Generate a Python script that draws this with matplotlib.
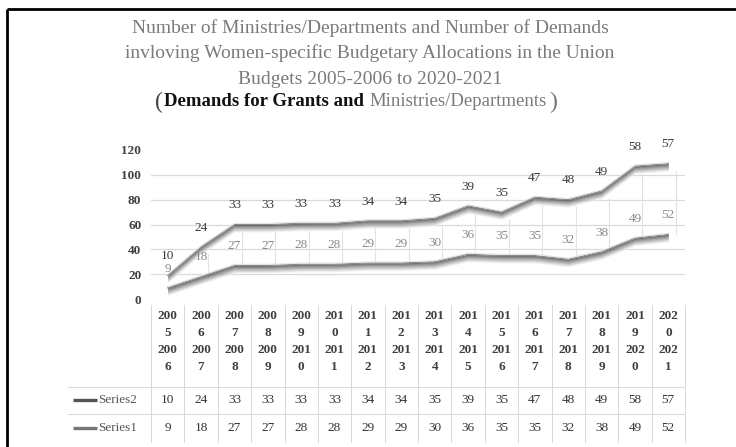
import matplotlib
matplotlib.use("Agg")
import matplotlib.pyplot as plt
import numpy as np
from matplotlib.transforms import blended_transform_factory

# ---- data -------------------------------------------------------------
categories = ["2005-2006", "2006-2007", "2007-2008", "2008-2009",
              "2009-2010", "2010-2011", "2011-2012", "2012-2013",
              "2013-2014", "2014-2015", "2015-2016", "2016-2017",
              "2017-2018", "2018-2019", "2019-2020", "2020-2021"]
series1 = [9, 18, 27, 27, 28, 28, 29, 29, 30, 36, 35, 35, 32, 38, 49, 52]
series2 = [10, 24, 33, 33, 33, 33, 34, 34, 35, 39, 35, 47, 48, 49, 58, 57]
series_names = ["Series2", "Series1"]
y_ticks = [0, 20, 40, 60, 80, 100, 120]
title_lines = [
    "Number of Ministries/Departments and Number of Demands",
    "invloving Women-specific Budgetary Allocations in the Union",
    "Budgets 2005-2006 to 2020-2021",
]
subtitle_bold = "Demands for Grants and "
subtitle_plain = "Ministries/Departments"

# ---- figure -----------------------------------------------------------
W, H = 736, 447
DPI = 100
plt.rcParams["font.family"] = ["Liberation Serif", "DejaVu Serif"]
fig = plt.figure(figsize=(W / DPI, H / DPI), dpi=DPI, facecolor="white")

# full-figure overlay in pixel units (y downwards) for frame, title, table
ov = fig.add_axes([0, 0, 1, 1], zorder=0)
ov.set_xlim(0, W)
ov.set_ylim(H, 0)
ov.axis("off")

# outer frame (top and left edges)
ov.plot([7, W], [9, 9], color="black", lw=2.0, solid_capstyle="butt")
ov.plot([7, 7], [9, H], color="black", lw=2.0, solid_capstyle="butt")

# title
title_color = "#7a7a7a"
for line, yc in zip(title_lines, [28, 53, 79]):
    ov.text(370, yc, line, ha="center", va="center", fontsize=14,
            color=title_color)
t_bold = ov.text(369, 102, subtitle_bold, ha="right", va="center",
                 fontsize=13.5, color="#111111", fontweight="bold")
t_plain = ov.text(369, 102, subtitle_plain, ha="left", va="center",
                  fontsize=13.5, color=title_color)
# larger brackets hugging the subtitle
ov.annotate("(", xy=(0, 0.5), xycoords=t_bold, xytext=(-1, 0),
            textcoords="offset points", ha="right", va="center",
            fontsize=17, color="#444444")
ov.annotate(")", xy=(1, 0.5), xycoords=t_plain, xytext=(2, 0),
            textcoords="offset points", ha="left", va="center",
            fontsize=17, color="#777777")

# ---- chart area -------------------------------------------------------
left, right, top, bottom = 151, 685, 150, 299
ax = fig.add_axes([left / W, 1 - bottom / H, (right - left) / W,
                   (bottom - top) / H], zorder=1)
ax.patch.set_alpha(0)
n = len(categories)
x = np.arange(n)
ax.set_xlim(-0.5, n - 0.5)
ax.set_ylim(0, 120)
for s in ax.spines.values():
    s.set_visible(False)
ax.set_xticks([])
ax.set_yticks(y_ticks)
ax.set_yticklabels([str(t) for t in y_ticks], fontsize=9.5, fontweight="bold",
                   color="#3f3f3f")
ax.tick_params(axis="y", length=0, pad=7)
for t in y_ticks[1:-1]:
    ax.axhline(t, color="#dadada", lw=0.9, zorder=0)

s1 = np.array(series1, dtype=float)
top_line = s1 + np.array(series2, dtype=float)


def ribbon(y, depth=6.0, steps=14, dark=0.22):
    """Shaded band hanging under a line, giving it a 3-D ribbon look."""
    for k in range(steps):
        t0, t1 = k / steps, (k + 1) / steps
        shade = dark + (1 - dark) * (t0 ** 0.9)
        ax.fill_between(x, y - depth * t1, y - depth * t0,
                        color=str(round(shade, 3)), lw=0, zorder=2)
    ax.plot(x, y, color="#8a8a8a", lw=0.9, zorder=3)
    ax.plot(x, y + 0.9, color="#e4e4e4", lw=0.8, zorder=3)


ribbon(s1)
ribbon(top_line)

# thin connectors between the two ribbons at each category
for xi, lo, hi in zip(x, s1, top_line):
    ax.plot([xi + 0.22, xi + 0.22], [lo, hi - 6.0], color="#e2e2e2",
            lw=0.8, zorder=1)

# data labels
offset = 15.5
for xi, v, yv in zip(x, series2, top_line):
    ax.text(xi, yv + offset, str(v), ha="center", va="center", fontsize=9.5,
            color="#3a3a3a", clip_on=False, zorder=4)
for xi, v, yv in zip(x, series1, s1):
    ax.text(xi, yv + offset, str(v), ha="center", va="center", fontsize=9.5,
            color="#8a8a8a", clip_on=False, zorder=4)

# ---- data table -------------------------------------------------------
tr = blended_transform_factory(ax.transData, ov.transData)
grid_c = "#d8d8d8"
header_rows = [316, 333, 350, 367]
row_y = {"Series2": 400, "Series1": 428}

for xi, cat in zip(x, categories):
    a, b = cat.split("-")
    parts = [a[:3], a[3:], b[:3], b[3:]]
    for txt, yy in zip(parts, header_rows):
        ov.text(xi, yy, txt, transform=tr, ha="center", va="center",
                fontsize=9.5, fontweight="bold", color="#3f3f3f")

for xi, v2, v1 in zip(x, series2, series1):
    ov.text(xi, row_y["Series2"], str(v2), transform=tr, ha="center",
            va="center", fontsize=9.5, color="#333333")
    ov.text(xi, row_y["Series1"], str(v1), transform=tr, ha="center",
            va="center", fontsize=9.5, color="#333333")

# table grid lines
for b in np.arange(-0.5, n, 1.0):
    ov.plot([b, b], [305, 442], transform=tr, color=grid_c, lw=0.7)
ov.plot([68, right], [387, 387], color=grid_c, lw=0.7)
ov.plot([68, right], [414, 414], color=grid_c, lw=0.7)

# row headers with legend keys
key_colors = {"Series2": "#555555", "Series1": "#777777"}
for name in series_names:
    yy = row_y[name]
    ov.plot([73, 97], [yy, yy], color=key_colors[name], lw=2.4,
            solid_capstyle="butt")
    ov.text(98, yy, name, ha="left", va="center", fontsize=9.5,
            color="#555555")

fig.savefig("out.png", dpi=DPI, facecolor="white")
